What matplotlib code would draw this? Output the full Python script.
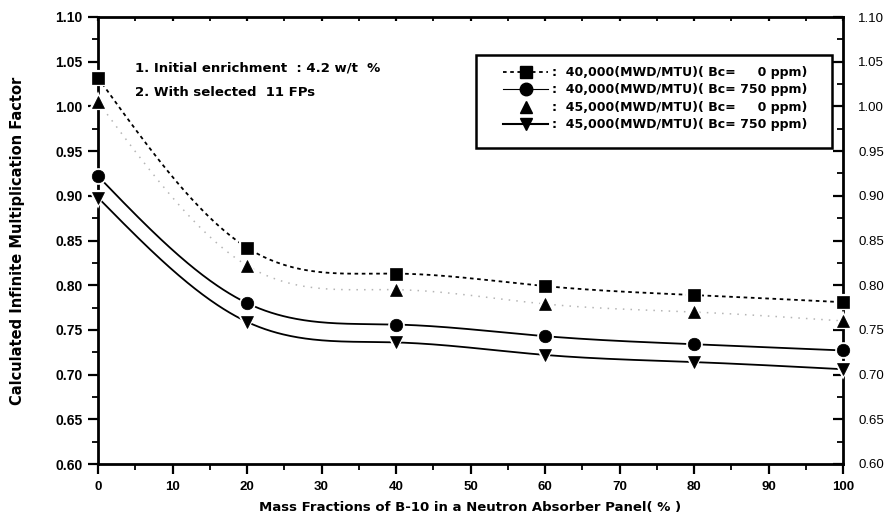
import numpy as np
import matplotlib
matplotlib.use("Agg")
import matplotlib.pyplot as plt
from matplotlib.ticker import MultipleLocator, FormatStrFormatter
from matplotlib.lines import Line2D
from matplotlib.patches import Rectangle
import matplotlib.lines as mlines

plt.rcParams['font.family'] = ['DejaVu Sans']

x = [0, 20, 40, 60, 80, 100]
s40_0 = [1.032, 0.842, 0.813, 0.799, 0.789, 0.781]
s40_750 = [0.922, 0.780, 0.756, 0.743, 0.734, 0.727]
s45_0 = [1.005, 0.822, 0.795, 0.779, 0.770, 0.760]
s45_750 = [0.898, 0.759, 0.736, 0.722, 0.714, 0.706]
labels = [":  40,000(MWD/MTU)( Bc=     0 ppm)",
          ":  40,000(MWD/MTU)( Bc= 750 ppm)",
          ":  45,000(MWD/MTU)( Bc=     0 ppm)",
          ":  45,000(MWD/MTU)( Bc= 750 ppm)"]
notes = ["1. Initial enrichment  : 4.2 w/t  %", "2. With selected  11 FPs"]


def natural_spline(xs, ys, xq):
    # natural cubic spline through the data points (line drawing only)
    xs = np.asarray(xs, float); ys = np.asarray(ys, float)
    n = len(xs); h = np.diff(xs)
    A = np.zeros((n, n)); r = np.zeros(n)
    A[0, 0] = A[-1, -1] = 1
    for i in range(1, n - 1):
        A[i, i - 1] = h[i - 1]; A[i, i] = 2 * (h[i - 1] + h[i]); A[i, i + 1] = h[i]
        r[i] = 6 * ((ys[i + 1] - ys[i]) / h[i] - (ys[i] - ys[i - 1]) / h[i - 1])
    M = np.linalg.solve(A, r)
    out = np.empty_like(xq)
    for j, xv in enumerate(xq):
        k = min(max(np.searchsorted(xs, xv, side='right') - 1, 0), n - 2)
        a = xs[k + 1] - xv; b = xv - xs[k]
        out[j] = (M[k] * a**3 + M[k + 1] * b**3) / (6 * h[k]) \
            + (ys[k] / h[k] - M[k] * h[k] / 6) * a + (ys[k + 1] / h[k] - M[k + 1] * h[k] / 6) * b
    return out


fig = plt.figure(figsize=(8.88, 5.21), dpi=100)
ax = fig.add_axes([98 / 888, 1 - 464 / 521, 745 / 888, 447 / 521])

xq = np.linspace(0, 100, 500)
styles = [
    (s40_0, 's', dict(color='black', ls=(0, (2, 2)), lw=1.3)),
    (s40_750, 'o', dict(color='black', ls='-', lw=1.3)),
    (s45_0, '^', dict(color='#b5b5b5', ls=(0, (1, 4)), lw=1.1)),
    (s45_750, 'v', dict(color='black', ls='-', lw=1.3)),
]
for ys, mk, st in styles:
    ax.plot(xq, natural_spline(x, ys, xq), zorder=2, **st)
    ax.plot(x, ys, ls='none', marker=mk, ms=9, mfc='black', mec='white',
            mew=3, zorder=3, clip_on=False)
    ax.plot(x, ys, ls='none', marker=mk, ms=9, mfc='black', mec='black',
            mew=0.5, zorder=4, clip_on=False)

ax.set_xlim(0, 100)
ax.set_ylim(0.60, 1.10)
ax.xaxis.set_major_locator(MultipleLocator(10))
ax.xaxis.set_minor_locator(MultipleLocator(5))
ax.yaxis.set_major_locator(MultipleLocator(0.05))
ax.yaxis.set_minor_locator(MultipleLocator(0.025))
ax.yaxis.set_major_formatter(FormatStrFormatter('%.2f'))

for sp in ax.spines.values():
    sp.set_linewidth(2)
ax.tick_params(axis='both', which='major', length=7, width=1.6, direction='out')
ax.tick_params(axis='both', which='minor', length=4, width=1.3, direction='out')
ax.tick_params(axis='x', which='major', labelsize=9.5, pad=5)
ax.tick_params(axis='y', which='major', labelsize=10, pad=4)
ax.tick_params(axis='x', which='both', top=True)
ax.tick_params(axis='y', which='both', right=True, labelright=True)

for tk in ax.xaxis.get_major_ticks():
    tk.label1.set_fontweight('bold')
    tk.label1.set_family(['Liberation Sans'])
for tk in ax.yaxis.get_major_ticks():
    tk.label1.set_fontweight('bold')
    tk.label1.set_family(['Liberation Sans'])
    tk.label2.set_fontweight('normal')
    tk.label2.set_family(['Liberation Sans'])
    tk.label2.set_fontsize(9.5)
# right side and top: inward ticks
for tk in ax.yaxis.get_major_ticks() + ax.yaxis.get_minor_ticks():
    tk.tick2line.set_marker(mlines.TICKLEFT)
for tk in ax.xaxis.get_major_ticks() + ax.xaxis.get_minor_ticks():
    tk.tick2line.set_marker(mlines.TICKDOWN)
    tk.tick2line.set_markersize(3)

ax.set_xlabel("Mass Fractions of B-10 in a Neutron Absorber Panel( % )",
              fontsize=9.5, fontweight='bold', labelpad=6)
ax.set_ylabel("Calculated Infinite Multiplication Factor", fontsize=10.5,
              fontweight='bold', labelpad=22)

ax.text(5, 1.043, notes[0], fontsize=9.5, fontweight='bold', va='center', ha='left')
ax.text(5, 1.016, notes[1], fontsize=9.5, fontweight='bold', va='center', ha='left')

handles = [
    Line2D([], [], color='black', ls=(0, (2, 2)), lw=1.3, marker='s', ms=9, mfc='black'),
    Line2D([], [], color='black', ls='-', lw=0.8, marker='o', ms=9, mfc='black'),
    Line2D([], [], color='white', ls='none', marker='^', ms=9, mfc='black', mec='black'),
    Line2D([], [], color='black', ls='-', lw=1.5, marker='v', ms=9, mfc='black'),
]
leg = ax.legend(handles, labels, loc='upper left',
                bbox_to_anchor=((503 - 98) / 745, (464 - 66) / 447),
                borderaxespad=0, borderpad=0, frameon=False, handlelength=3.6,
                handletextpad=0.3, labelspacing=0.36,
                prop={'weight': 'bold', 'size': 9})
box = Rectangle(((476 - 98) / 745, (464 - 148) / 447), (832 - 476) / 745, 93 / 447,
                transform=ax.transAxes, fill=True, facecolor='white',
                edgecolor='black', lw=1.8, zorder=5)
ax.add_patch(box)
leg.set_zorder(6)

fig.savefig("out.png", dpi=100)
